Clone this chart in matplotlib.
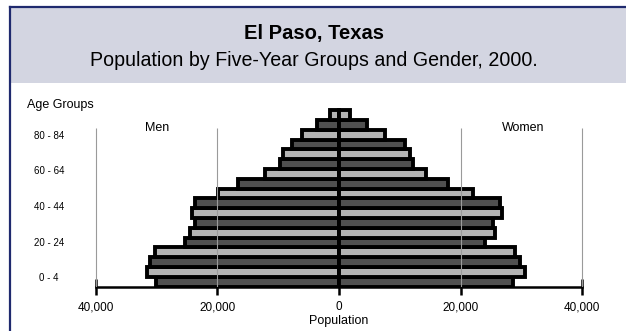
import matplotlib
matplotlib.use("Agg")
import matplotlib.pyplot as plt
from matplotlib.patches import Rectangle
from matplotlib.lines import Line2D
import numpy as np

plt.rcParams["font.family"] = ["Liberation Sans", "DejaVu Sans"]

# age groups, youngest first
age_groups = ["0 - 4", "5 - 9", "10 - 14", "15 - 19", "20 - 24", "25 - 29",
              "30 - 34", "35 - 39", "40 - 44", "45 - 49", "50 - 54", "55 - 59",
              "60 - 64", "65 - 69", "70 - 74", "75 - 79", "80 - 84", "85 +"]
men = [30100, 31650, 31100, 30300, 25350, 24500, 23700, 24250, 23700,
       19900, 16600, 12200, 9700, 9200, 7800, 6100, 3700, 1500]
women = [28600, 30600, 29800, 29000, 24000, 25700, 25400, 26800, 26500,
         22100, 18000, 14400, 12200, 11700, 10900, 7600, 4600, 1800]
shown_groups = ["0 - 4", "20 - 24", "40 - 44", "60 - 64", "80 - 84"]
x_ticks = [-40000, -20000, 0, 20000, 40000]
x_labels = ["40,000", "20,000", "0", "20,000", "40,000"]

W, H = 626, 331
fig = plt.figure(figsize=(W / 100, H / 100), dpi=100)

# header band and frame
fig.patches.append(Rectangle((9 / W, 1 - 83 / H), 1, (83 - 7) / H,
                             transform=fig.transFigure, facecolor="#d3d5e1",
                             edgecolor="none", zorder=0))
navy = "#1f2a6e"
fig.add_artist(Line2D([9.5 / W, 1], [1 - 6.5 / H] * 2, color=navy, lw=1.6,
                      transform=fig.transFigure))
fig.add_artist(Line2D([9.5 / W] * 2, [0, 1 - 6.5 / H], color=navy, lw=1.6,
                      transform=fig.transFigure))

fig.text(0.502, 1 - 33 / H, "El Paso, Texas", ha="center", va="center",
         fontsize=14.5, fontweight="bold")
fig.text(0.502, 1 - 60 / H, "Population by Five-Year Groups and Gender, 2000.",
         ha="center", va="center", fontsize=14.1)
fig.text(27 / W, 1 - 105 / H, "Age Groups", ha="left", va="center", fontsize=9)

# row pitch ~9.8 px, baseline at y=287 px
ax = fig.add_axes([65.6 / W, (H - 287.0) / H, 546.8 / W, 181.8 / H])
ax.set_xlim(-45000, 45000)
ax.set_ylim(-0.55, 18.0)

y = np.arange(len(age_groups))
fills = ["#505050" if i % 2 == 0 else "#b4b4b4" for i in y]
ax.barh(y, [-v for v in men], height=1.0, color=fills, edgecolor="black",
        linewidth=2.8, zorder=2)
ax.barh(y, women, height=1.0, color=fills, edgecolor="black",
        linewidth=2.8, zorder=2)

# vertical reference lines
ax.vlines([-40000, -20000, 20000, 40000], -0.55, 15.7, color="#9a9a9a",
          lw=0.8, zorder=3)

for side in ["top", "right", "left"]:
    ax.spines[side].set_visible(False)
ax.spines["bottom"].set_position(("data", -0.55))
ax.spines["bottom"].set_bounds(-40000, 40000)
ax.spines["bottom"].set_linewidth(1.8)
ax.spines["bottom"].set_zorder(1)

ax.set_xticks(x_ticks, x_labels)
ax.tick_params(axis="x", direction="inout", length=11.5, width=1.8,
               labelsize=8.5, pad=4.5)
# the source labels sit on a slightly tighter spacing than the bars
ax.set_yticks([age_groups.index(g) * 0.91 + 0.42 for g in shown_groups],
              shown_groups)
ax.tick_params(axis="y", length=0, labelsize=7, pad=12)
for lab in ax.get_yticklabels():
    lab.set_ha("center")

ax.text(-30000, 15.65, "Men", ha="center", va="center", fontsize=9)
ax.text(30300, 15.65, "Women", ha="center", va="center", fontsize=9)
fig.text(339 / W, 1 - 321 / H, "Population", ha="center", va="center",
         fontsize=9)

fig.savefig("out.png", dpi=100)
